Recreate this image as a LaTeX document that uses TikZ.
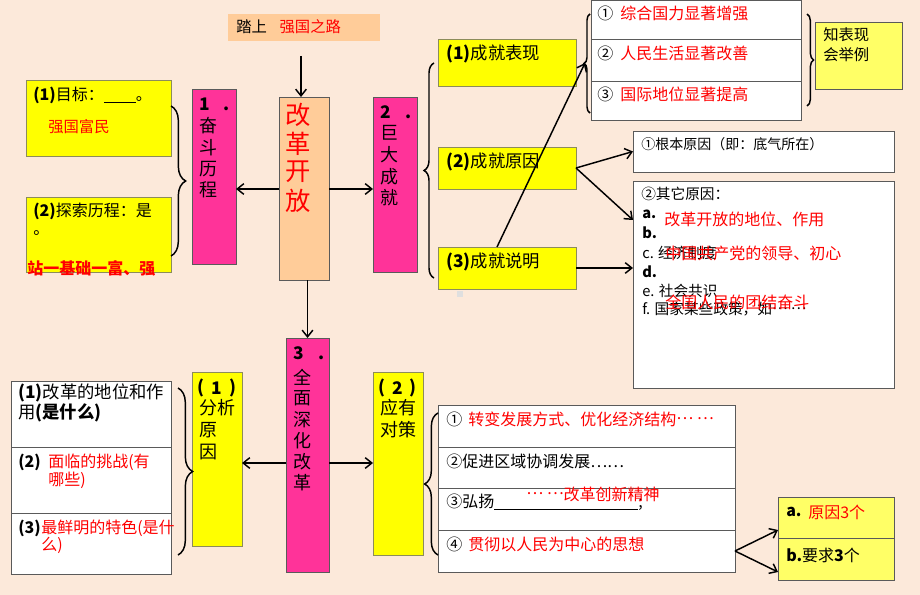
\documentclass[tikz,border=0pt]{standalone}
\usepackage{fontspec}
\setmainfont{Noto Sans CJK SC}
\usetikzlibrary{arrows.meta,decorations.pathreplacing,calc}
\definecolor{bg}{HTML}{FCE9DA}
\definecolor{peach}{HTML}{FFCC99}
\definecolor{mag}{HTML}{FF3399}
\definecolor{yel}{HTML}{FFFF00}
\definecolor{lyel}{HTML}{FFFF66}
\definecolor{rd}{HTML}{FF0000}
\definecolor{bd}{HTML}{5A5A5A}
\definecolor{ybd}{HTML}{8C8C5A}
\newcommand{\bx}[6]{\node[#6, anchor=north west, minimum width={(#4-#2)*0.75pt}, minimum height={(#5-#3)*0.75pt}, inner sep=0pt, outer sep=0pt] (#1) at (#2,#3) {};}
\newcommand{\fs}[1]{\fontsize{#1}{#1}\selectfont}
\newcommand{\mdots}{\raisebox{0.33em}{…}}
\begin{document}
\begin{tikzpicture}[x=0.75pt,y=-0.75pt,
  wbox/.style={draw=bd, line width=0.7pt, fill=white},
  ybox/.style={draw=ybd, line width=0.7pt, fill=yel},
  lybox/.style={draw=bd, line width=0.7pt, fill=lyel},
  mbox/.style={draw=bd, line width=0.7pt, fill=mag},
  pbox/.style={draw=bd, line width=0.7pt, fill=peach},
  tbox/.style={fill=peach},
  t/.style={inner sep=0pt, anchor=west, font=\fs{12}},
  vt/.style={inner sep=0pt, anchor=center, font=\fs{13.5}},
  arr/.style={-{Straight Barb[length=5pt,width=8pt]}, line width=1.1pt},
  brc/.style={decorate, decoration={brace, amplitude=#1}, line width=1.1pt}]
\fill[bg] (0,0) rectangle (920,595);
\useasboundingbox (0,0) rectangle (920,595);

% boxes
\bx{ttlb}{228}{14}{380}{41}{tbox}
\bx{gk}{279}{97}{329}{280}{pbox}
\bx{fd}{192}{89}{236}{264}{mbox}
\bx{jd}{373}{97}{417}{272}{mbox}
\bx{sh}{286}{338}{329}{572}{mbox}
\bx{mb}{26}{80}{171}{156}{ybox}
\bx{ts}{26}{197}{171}{272}{ybox}
\bx{bx}{438}{39}{576}{86}{ybox}
\bx{cy}{438}{147}{576}{189}{ybox}
\bx{sm}{438}{247}{576}{289}{ybox}
\bx{tr1}{591}{0}{801}{39}{wbox}
\bx{tr2}{591}{39}{801}{81}{wbox}
\bx{tr3}{591}{81}{801}{120}{wbox}
\bx{zb}{815}{22}{902}{89}{lybox}
\bx{qa}{633}{131}{894}{172}{wbox}
\bx{qt}{633}{181}{894}{388}{wbox}
\bx{fx}{192}{372}{242}{546}{ybox}
\bx{dc}{373}{372}{423}{555}{ybox}
\bx{lb1}{11}{381}{171}{447}{wbox}
\bx{lb2}{11}{447}{171}{513}{wbox}
\bx{lb3}{11}{513}{171}{574}{wbox}
\bx{rb1}{438}{405}{735}{447}{wbox}
\bx{rb2}{438}{447}{735}{488}{wbox}
\bx{rb3}{438}{488}{735}{530}{wbox}
\bx{rb4}{438}{530}{735}{572}{wbox}
\bx{ya}{778}{497}{894}{538}{lybox}
\bx{yb}{778}{538}{894}{580}{lybox}
\fill[gray!25] (457,291) rectangle (463,297);

% title
\node[t, font=\fs{11.5}] (ttl) at (236,27) {踏上\hspace{9.5pt}\textcolor{rd}{强国之路}};

% centre column texts
\foreach \c [count=\i] in {改,革,开,放}
  \node[vt, font=\fs{19}, text=rd] (gg\i) at (298,{115+(\i-1)*28.5}) {\c};
\node[t, font=\fs{13}\bfseries] (fdn) at (199,104) {1\hspace{10.5pt}.};
\foreach \c [count=\i] in {奋,斗,历,程}
  \node[vt] (fd\i) at (208,{126+(\i-1)*21.3}) {\c};
\node[t, font=\fs{13}\bfseries] (jdn) at (380,112) {2\hspace{11pt}.};
\foreach \c [count=\i] in {巨,大,成,就}
  \node[vt] (jd\i) at (389,{133+(\i-1)*21.7}) {\c};
\node[t, font=\fs{13}\bfseries] (shn) at (293,353) {3\hspace{11pt}.};
\foreach \c [count=\i] in {全,面,深,化,改,革}
  \node[vt] (sh\i) at (302,{377+(\i-1)*21.2}) {\c};
\node[vt, font=\fs{13}\bfseries] (fxa) at (201,388) {(};
\node[vt, font=\fs{13}\bfseries] (fxb) at (217,388) {1};
\node[vt, font=\fs{13}\bfseries] (fxc) at (233,388) {)};
\node[vt] (fx1) at (217,408) {分析};
\node[vt] (fx2) at (208,430) {原};
\node[vt] (fx3) at (208,452) {因};
\node[vt, font=\fs{13}\bfseries] (dca) at (382,388) {(};
\node[vt, font=\fs{13}\bfseries] (dcb) at (398,388) {2};
\node[vt, font=\fs{13}\bfseries] (dcc) at (413,388) {)};
\node[vt] (dc1) at (398,408) {应有};
\node[vt] (dc2) at (398,430) {对策};

% left yellow boxes
\node[t] (mbt) at (33,95) {\textbf{(1)}目标：\underline{\hspace{24pt}}。};
\node[t, font=\fs{11.5}, text=rd] (mbr) at (48,127) {强国富民};
\node[t] (tst) at (33,211) {\textbf{(2)}探索历程：是};
\node[t] (tsd) at (33,233) {。};
\node[t, font=\fs{12}\bfseries, text=rd] (tsr) at (27,268) {站一基础一富、强};

% achievements
\node[t, font=\fs{13}] (bxt) at (446,54) {\textbf{(1)}成就表现};
\node[t, font=\fs{13}] (cyt) at (446,162) {\textbf{(2)}成就原因};
\node[t, font=\fs{13}] (smt) at (446,262) {\textbf{(3)}成就说明};
\node[t] (tr1a) at (597,13) {①};
\node[t, text=rd] (tr1b) at (620,13) {综合国力显著增强};
\node[t] (tr2a) at (597,53) {②};
\node[t, text=rd] (tr2b) at (620,53) {人民生活显著改善};
\node[t] (tr3a) at (597,94) {③};
\node[t, text=rd] (tr3b) at (620,94) {国际地位显著提高};
\node[t, font=\fs{11.5}] (zb1) at (823,35) {知表现};
\node[t, font=\fs{11.5}] (zb2) at (823,55) {会举例};
\node[t, font=\fs{10.5}] (qat) at (641,144) {①根本原因（即：底气所在）};
\node[t, font=\fs{11}] (qt0) at (641,194) {②其它原因：};
\node[t, font=\fs{11}\bfseries] (qta) at (642,214) {a.};
\node[t, font=\fs{11}\bfseries] (qtb) at (642,233) {b.};
\node[t, font=\fs{11}] (qtc) at (642,253) {c. 经济制度};
\node[t, font=\fs{11}\bfseries] (qtd) at (642,272) {d.};
\node[t, font=\fs{11}] (qte) at (642,291) {e. 社会共识};
\node[t, font=\fs{11}] (qtf) at (642,309) {f. 国家某些政策，如\mdots\ \mdots};
\node[t, text=rd] (qra) at (664,219) {改革开放的地位、作用};
\node[t, text=rd] (qrc) at (665,253) {中国共产党的领导、初心};
\node[t, text=rd] (qre) at (665,302) {全国人民的团结奋斗};

% bottom left table
\node[t, font=\fs{13}] (lb1a) at (18,393) {\textbf{(1)}改革的地位和作};
\node[t, font=\fs{13}] (lb1b) at (18,413) {用\textbf{(是什么)}};
\node[t, font=\fs{12}\bfseries] (lb2a) at (18,462) {(2)};
\node[t, text=rd] (lb2b) at (48,462) {面临的挑战(有};
\node[t, text=rd] (lb2c) at (48,480) {哪些)};
\node[t, font=\fs{12}\bfseries] (lb3a) at (18,528) {(3)};
\node[t, text=rd] (lb3b) at (41,528) {最鲜明的特色(是什};
\node[t, text=rd] (lb3c) at (41,545) {么)};

% bottom right table
\node[t] (rb1a) at (446,419) {①};
\node[t, text=rd] (rb1b) at (468,419) {转变发展方式、优化经济结构\mdots\ \mdots};
\node[t] (rb2a) at (446,461) {②促进区域协调发展……};
\node[t] (rb3a) at (446,502) {③弘扬\underline{\hspace{108pt}};};
\node[t, text=rd] (rb3b) at (526,494) {\mdots\ \mdots 改革创新精神};
\node[t] (rb4a) at (446,544) {④};
\node[t, text=rd] (rb4b) at (468,544) {贯彻以人民为中心的思想};
\node[t, font=\fs{12}\bfseries] (yat) at (786,512) {a.};
\node[t, text=rd] (yar) at (808,512) {原因3个};
\node[t] (ybt) at (786,555) {\textbf{b.}要求\textbf{3}个};

% connectors
\coordinate (ta) at (301,56);
\draw[arr] (ta) -- (ta |- gk.north);
\draw[arr] (gk.west |- 0,189) -- (fd.east |- 0,189);
\draw[arr] (gk.east |- 0,189) -- (jd.west |- 0,189);
\draw[arr] (gk.south -| sh.north) -- (sh.north);
\draw[arr] (sh.west |- 0,463) -- (fx.east |- 0,463);
\draw[arr] (sh.east |- 0,463) -- (dc.west |- 0,463);
\coordinate (b3tip) at (585,63);
\draw[arr] ($(sm.north)+(-10,0)$) -- (b3tip);
\draw[arr] (cy.east) -- (qa.west);
\draw[arr] (cy.east) -- ($(qt.north west)+(0,39)$);
\draw[arr] (sm.east) -- (sm.east -| qt.west);
\draw[arr] (rb4.east) -- ($(ya.south west)+(0,-8)$);
\draw[arr] (rb4.east) -- ($(yb.south west)+(0,-8)$);

% braces
\draw[brc=11pt] (171,106) -- (171,256);
\draw[brc=7.5pt] (434,278) -- (434,63);
\draw[brc=4.5pt] (590,113) -- (590,14);
\draw[brc=5pt] (807,14) -- (807,106);
\draw[brc=11pt] (178,388) -- (178,555);
\draw[brc=10pt] (438,555) -- (438,413);
\end{tikzpicture}
\end{document}
